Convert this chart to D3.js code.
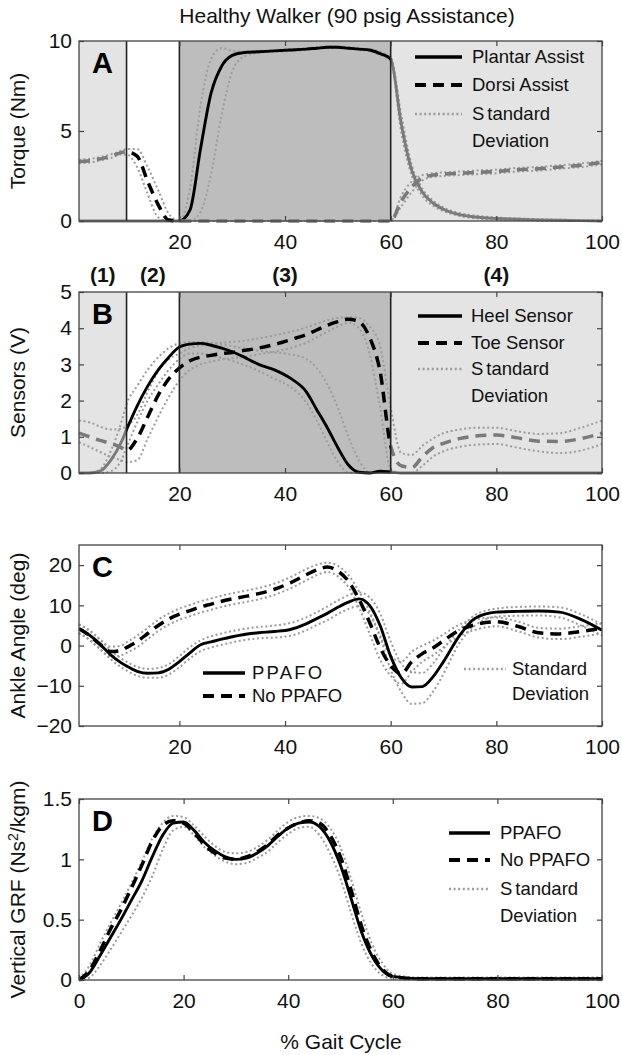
<!DOCTYPE html>
<html>
<head>
<meta charset="utf-8">
<script src="https://cdn.jsdelivr.net/npm/d3@7"></script>
<style>
  body { margin: 0; background: #fff; }
  svg { display: block; font-family: "Liberation Sans", Arial, sans-serif; }
</style>
</head>
<body>
<div id="chart"></div>
<script>

// ---- data ----
// shared % gait cycle grid for panels A, B, C
const gaitX = [1,3,5,7,9,10,12,14,16,18,20,22,24,26,28,30,32,35,38,41,44,46,48,50,52,54,56,58,60,62,64,66,68,70,73,76,80,84,88,92,96,100];

// phases of the gait cycle (panels A and B)
const phaseEdges = [1, 10, 20, 60, 100];
const phaseLabels = ["(1)", "(2)", "(3)", "(4)"];

// A: torque (Nm)
const plantarAssist   = [0,0,0,0,0, 0,0,0,0,0, 0,0.6,4.0,7.1,8.6, 9.2,9.35,9.4,9.45,9.5, 9.55,9.6,9.65,9.65,9.6, 9.55,9.5,9.3,9.0,5.4, 2.8,1.6,1.0,0.65,0.35, 0.22,0.14,0.1,0.06,0.04, 0.02,0];
const plantarAssistHi = [0,0,0,0,0, 0,0,0,0,0, 0,1.8,6.4,9.0,9.6, 9.45,9.4,9.45,9.5,9.55, 9.6,9.65,9.7,9.7,9.65, 9.6,9.55,9.4,9.1,5.9, 3.1,1.8,1.15,0.75,0.45, 0.3,0.2,0.14,0.1,0.07, 0.05,0.03];
const plantarAssistLo = [0,0,0,0,0, 0,0,0,0,0, 0,0,0.5,2.6,5.9, 8.3,9.1,9.35,9.4,9.45, 9.5,9.55,9.6,9.6,9.55, 9.5,9.45,9.2,8.9,4.9, 2.5,1.4,0.85,0.55,0.28, 0.15,0.08,0.05,0.02,0.01, 0,0];
const dorsiAssist     = [3.3,3.35,3.45,3.6,3.8, 3.85,3.6,2.2,0.9,0.05, 0,0,0,0,0, 0,0,0,0,0, 0,0,0,0,0, 0,0,0,0,1.1, 1.9,2.4,2.55,2.6,2.65, 2.7,2.75,2.85,2.9,3.0, 3.1,3.25];
const dorsiAssistHi   = [3.4,3.45,3.55,3.7,3.9, 4.0,4.0,3.0,1.7,0.4, 0,0,0,0,0, 0,0,0,0,0, 0,0,0,0,0, 0,0,0,0,1.4, 2.2,2.55,2.65,2.7,2.75, 2.8,2.85,2.95,3.0,3.1, 3.2,3.35];
const dorsiAssistLo   = [3.2,3.25,3.35,3.5,3.7, 3.7,3.0,1.5,0.2,0, 0,0,0,0,0, 0,0,0,0,0, 0,0,0,0,0, 0,0,0,0,0.8, 1.6,2.25,2.45,2.5,2.55, 2.6,2.65,2.75,2.8,2.9, 3.0,3.15];

// B: sensors (V)
const heelSensor   = [0,0,0.05,0.35,0.85, 1.2,1.85,2.4,2.85,3.2, 3.48,3.56,3.58,3.53,3.45, 3.35,3.22,3.0,2.85,2.62, 2.25,1.75,1.25,0.7,0.22, 0.02,0,0.05,0.03,0, 0,0,0,0,0, 0,0,0,0,0, 0,0];
const heelSensorHi = [0,0,0.1,0.6,1.4, 1.9,2.4,2.85,3.2,3.45, 3.58,3.62,3.62,3.6,3.55, 3.5,3.45,3.38,3.33,3.28, 3.15,2.9,2.45,1.8,1.0, 0.35,0.02,0,0,0, 0,0,0,0,0, 0,0,0,0,0, 0,0];
const heelSensorLo = [0,0,0,0.05,0.35, 0.7,1.4,2.0,2.45,2.85, 3.15,3.3,3.3,3.25,3.18, 3.1,3.0,2.82,2.6,2.38, 1.95,1.45,0.85,0.3,0.02, 0,0,0,0,0, 0,0,0,0,0, 0,0,0,0,0, 0,0];
const toeSensor    = [1.1,1.0,0.9,0.82,0.7, 0.62,0.95,1.55,2.15,2.6, 2.9,3.1,3.2,3.25,3.3, 3.33,3.38,3.45,3.55,3.68, 3.82,3.95,4.08,4.18,4.25, 4.18,3.75,2.8,0.75,0.2, 0.15,0.45,0.7,0.82,0.95, 1.02,1.05,0.97,0.88,0.87, 0.95,1.1];
const toeSensorHi  = [1.45,1.4,1.28,1.2,1.22, 1.3,1.6,2.25,2.8,3.15, 3.3,3.45,3.52,3.56,3.6, 3.62,3.65,3.72,3.8,3.9, 4.02,4.12,4.22,4.28,4.3, 4.28,4.05,3.5,1.8,0.55, 0.5,0.75,0.95,1.1,1.2, 1.25,1.25,1.15,1.08,1.1, 1.25,1.45];
const toeSensorLo  = [0.85,0.72,0.58,0.45,0.35, 0.3,0.35,0.95,1.55,2.1, 2.55,2.85,3.0,3.08,3.13, 3.17,3.2,3.28,3.35,3.45, 3.6,3.75,3.9,4.05,4.15, 4.0,3.3,1.8,0.1,0, 0,0.2,0.45,0.6,0.72, 0.78,0.8,0.7,0.6,0.55, 0.62,0.8];

// C: ankle angle (deg)
const anklePPAFO     = [4.2,2.6,0.3,-2.3,-4.3, -5.1,-6.4,-6.9,-6.8,-5.9, -4.0,-1.8,0.2,0.9,1.6, 2.2,2.7,3.2,3.5,4.0, 5.4,6.7,8.0,9.5,10.8, 11.6,10.0,5.0,-2.7,-8.0, -10.3,-10.2,-7.8,-4.0,2.4, 6.8,8.3,8.5,8.6,8.3, 6.5,3.8];
const anklePPAFOHi   = [5.3,3.8,1.5,-1.2,-3.2, -4.0,-5.3,-5.8,-5.6,-4.6, -2.6,-0.4,1.3,2.3,3.0, 3.6,4.1,4.6,5.0,5.6, 7.0,8.3,9.7,11.2,12.5, 13.2,12.0,8.0,1.0,-4.5, -6.5,-6.8,-4.5,-0.8,4.0, 7.6,9.2,9.6,9.7,9.5, 7.8,5.2];
const anklePPAFOLo   = [3.1,1.4,-0.9,-3.4,-5.4, -6.2,-7.5,-8.0,-8.0,-7.2, -5.4,-3.2,-1.4,-0.5,0.2, 0.8,1.3,1.8,2.0,2.4, 3.8,5.1,6.3,7.8,9.1, 9.8,7.8,2.0,-6.0,-11.5, -14.5,-14.3,-11.5,-7.0,0.6, 5.0,7.2,7.4,7.5,7.0, 5.0,2.5];
const ankleNoPPAFO   = [4.2,2.5,0.3,-1.5,-1.2, -0.5,1.0,3.0,5.0,6.6, 7.8,8.7,9.6,10.3,11.0, 11.6,12.1,12.9,14.0,15.6, 17.6,18.8,19.5,18.5,16.0, 11.5,5.8,-0.5,-5.0,-7.0, -4.0,-2.0,-0.6,1.2,3.8, 5.2,5.9,4.8,3.2,2.9, 3.5,4.3];
const ankleNoPPAFOHi = [5.3,3.6,1.5,-0.3,0.0, 0.8,2.4,4.4,6.4,8.0, 9.2,10.1,11.0,11.7,12.4, 13.0,13.5,14.3,15.4,17.0, 19.0,20.1,20.6,19.8,17.5, 13.5,8.5,2.5,-2.5,-4.0, -1.5,0.0,1.2,2.8,5.2, 6.5,7.0,6.0,4.4,4.2, 4.8,5.6];
const ankleNoPPAFOLo = [3.1,1.4,-0.9,-2.7,-2.4, -1.8,-0.4,1.6,3.6,5.2, 6.4,7.3,8.2,8.9,9.6, 10.2,10.7,11.5,12.6,14.2, 16.2,17.5,18.3,17.2,14.5, 9.5,3.0,-3.5,-7.5,-9.5, -6.5,-4.0,-2.4,-0.4,2.4, 3.9,4.8,3.6,2.0,1.6, 2.2,3.0];

// D: vertical GRF (Ns^2/kgm)
const grfX = [0,2,4,6,8,10,12,14,16,18,20,22,24,26,28,30,32,34,36,38,40,42,44,46,48,50,52,54,56,58,60,65,70,80,90,100];
const grfPPAFO   = [0,0.06,0.2,0.35,0.5, 0.66,0.82,1.02,1.2,1.3, 1.31,1.24,1.14,1.07,1.02, 1.0,1.01,1.05,1.11,1.19, 1.26,1.3,1.31,1.27,1.15, 0.95,0.68,0.4,0.2,0.08, 0.03, 0.01,0.01,0.01,0.01,0.01];
const grfNoPPAFO = [0,0.08,0.24,0.42,0.58, 0.76,0.95,1.15,1.28,1.32, 1.3,1.22,1.12,1.05,1.01, 1.0,1.02,1.06,1.12,1.2, 1.26,1.3,1.32,1.3,1.2, 1.02,0.75,0.45,0.23,0.09, 0.03, 0.01,0.01,0.01,0.01,0.01];
const grfHi      = [0.01,0.12,0.3,0.47,0.63, 0.8,0.98,1.17,1.3,1.36, 1.35,1.28,1.19,1.11,1.06, 1.05,1.06,1.1,1.16,1.24, 1.31,1.35,1.36,1.34,1.26, 1.1,0.84,0.55,0.3,0.14, 0.05, 0.02,0.02,0.02,0.02,0.02];
const grfLo      = [0,0.02,0.12,0.25,0.39, 0.53,0.68,0.86,1.08,1.24, 1.27,1.2,1.1,1.03,0.98, 0.96,0.97,1.01,1.06,1.14, 1.21,1.26,1.27,1.2,1.05, 0.84,0.56,0.3,0.13,0.04, 0.01, 0,0,0,0,0];

// tick labels
const gaitTicks = [20, 40, 60, 80, 100];
const grfGaitTicks = [0, 20, 40, 60, 80, 100];
const torqueTicks = [0, 5, 10];
const sensorTicks = [0, 1, 2, 3, 4, 5];
const angleTicks = [-20, -10, 0, 10, 20];
const grfTicks = [0, 0.5, 1, 1.5];

// ---- drawing ----
const width = 622, height = 1055;
const plotLeft = 79, plotRight = 602;
const inactiveColor = "#7a7a7a";
const sdColor = "#9c9c9c";
const phaseFill = ["#e4e4e4", "#ffffff", "#bdbdbd", "#e4e4e4"];

const lineStyles = {
    solid: {width: 2.9, dash: null},
    dash: {width: 3.5, dash: "11,7"},
    dot: {width: 2, dash: "2,2.6"}
};

const svg = d3.select("#chart")
    .append("svg")
    .attr("width", width)
    .attr("height", height);

const defs = svg.append("defs");
let clipId = 0;

// clip made of one or more x intervals (data units)
function makeClip(x, ranges, top, bottom) {
    const id = "clip" + (clipId++);
    const cp = defs.append("clipPath").attr("id", id);
    ranges.forEach(r => {
        cp.append("rect")
            .attr("x", x(r[0]))
            .attr("y", top - 6)
            .attr("width", x(r[1]) - x(r[0]))
            .attr("height", bottom - top + 12);
    });
    return "url(#" + id + ")";
}

function drawPanel(p) {
    const x = d3.scaleLinear().domain(p.xDomain).range([plotLeft, plotRight]);
    const y = d3.scaleLinear().domain(p.yDomain).range([p.bottom, p.top]);
    const g = svg.append("g");

    // shaded gait phases
    if (p.phases) {
        for (let i = 0; i < phaseEdges.length - 1; i++) {
            g.append("rect")
                .attr("x", x(phaseEdges[i]))
                .attr("y", p.top)
                .attr("width", x(phaseEdges[i + 1]) - x(phaseEdges[i]))
                .attr("height", p.bottom - p.top)
                .attr("fill", phaseFill[i]);
        }
    }

    const line = d3.line()
        .x((d, i) => x(p.xs[i]))
        .y(d => y(d))
        .curve(d3.curveMonotoneX);

    // standard deviation bands as dotted lines
    p.sd.forEach(s => {
        g.append("path")
            .attr("d", line(s))
            .attr("fill", "none")
            .attr("stroke", sdColor)
            .attr("stroke-width", lineStyles.dot.width)
            .attr("stroke-dasharray", lineStyles.dot.dash);
    });

    // mean curves: black inside the active phase, grey outside
    p.series.forEach(s => {
        const st = lineStyles[s.style];
        const a = s.active || p.xDomain;
        if (s.active) {
            g.append("path")
                .attr("d", line(s.values))
                .attr("fill", "none")
                .attr("stroke", inactiveColor)
                .attr("stroke-width", st.width)
                .attr("stroke-dasharray", st.dash)
                .attr("clip-path", makeClip(x, [[p.xDomain[0] - 1, a[0]], [a[1], p.xDomain[1] + 1]], p.top, p.bottom));
        }
        g.append("path")
            .attr("d", line(s.values))
            .attr("fill", "none")
            .attr("stroke", "#000")
            .attr("stroke-width", st.width)
            .attr("stroke-dasharray", st.dash)
            .attr("clip-path", makeClip(x, [a], p.top, p.bottom));
    });

    // phase dividers
    if (p.phases) {
        phaseEdges.slice(1, -1).forEach(e => {
            g.append("line")
                .attr("x1", x(e)).attr("x2", x(e))
                .attr("y1", p.top).attr("y2", p.bottom)
                .attr("stroke", "#222")
                .attr("stroke-width", 1.6);
        });
    }

    // frame
    g.append("rect")
        .attr("x", plotLeft).attr("y", p.top)
        .attr("width", plotRight - plotLeft)
        .attr("height", p.bottom - p.top)
        .attr("fill", "none")
        .attr("stroke", "#444")
        .attr("stroke-width", 1.3);

    // axes with inward ticks (matlab style box)
    const fmt = d => d3.format("")(d);
    const left = g.append("g").attr("transform", `translate(${plotLeft},0)`)
        .call(d3.axisLeft(y).tickValues(p.yTicks).tickSize(-5).tickPadding(7).tickFormat(fmt));
    const bottom = g.append("g").attr("transform", `translate(0,${p.bottom})`)
        .call(d3.axisBottom(x).tickValues(p.xTicks).tickSize(-5).tickPadding(13).tickFormat(fmt));
    const rightAx = g.append("g").attr("transform", `translate(${plotRight},0)`)
        .call(d3.axisRight(y).tickValues(p.yTicks).tickSize(-5).tickFormat(""));
    const topAx = g.append("g").attr("transform", `translate(0,${p.top})`)
        .call(d3.axisTop(x).tickValues(p.xTicks).tickSize(-5).tickFormat(""));
    [left, bottom, rightAx, topAx].forEach(ax => {
        ax.select(".domain").remove();
        ax.selectAll(".tick line").attr("stroke", "#444").attr("stroke-width", 1.2);
        ax.selectAll("text")
            .attr("fill", "#111")
            .style("font-size", "21px")
            .style("font-family", "'Liberation Sans', Arial, sans-serif");
    });

    // y axis title
    const yt = g.append("text")
        .attr("transform", "rotate(-90)")
        .attr("x", -(p.top + p.bottom) / 2)
        .attr("y", 25)
        .attr("dy", "0.35em")
        .attr("text-anchor", "middle")
        .style("font-size", "21px")
        .attr("fill", "#111");
    p.yTitle.forEach(part => {
        yt.append("tspan").attr("dy", part.dy || 0).style("font-size", part.size || null).text(part.t);
    });

    // panel letter
    g.append("text")
        .attr("x", 92)
        .attr("y", p.top + 32)
        .style("font-size", "29px")
        .style("font-weight", "bold")
        .text(p.letter);

    // legend
    const lg = p.legend;
    lg.items.forEach((it, i) => {
        const yy = lg.rows[i];
        const st = lineStyles[it.style];
        g.append("line")
            .attr("x1", lg.x0).attr("x2", lg.x1)
            .attr("y1", yy).attr("y2", yy)
            .attr("stroke", it.style === "dot" ? sdColor : "#000")
            .attr("stroke-width", st.width + 0.4)
            .attr("stroke-dasharray", st.dash);
        const tx = g.append("text")
            .attr("x", lg.tx)
            .attr("y", yy)
            .attr("dy", "0.35em")
            .style("font-size", "18.5px")
            .style("letter-spacing", it.spacing || null)
            .attr("fill", "#111");
        if (it.split) {
            tx.append("tspan").text(it.label.slice(0, 1));
            tx.append("tspan").attr("dx", 3).text(it.label.slice(1));
        } else {
            tx.text(it.label);
        }
        if (it.second) {
            g.append("text")
                .attr("x", lg.tx)
                .attr("y", yy + lg.gap)
                .attr("dy", "0.35em")
                .style("font-size", "18.5px")
                .attr("fill", "#111")
                .text(it.second);
        }
    });

    return {x, y};
}

// Title
svg.append("text")
    .attr("x", 347)
    .attr("y", 23)
    .attr("text-anchor", "middle")
    .style("font-size", "21px")
    .attr("fill", "#111")
    .text("Healthy Walker (90 psig Assistance)");

// Panel A
drawPanel({
    letter: "A", top: 41, bottom: 221,
    xDomain: [1, 100], yDomain: [0, 10], xs: gaitX,
    xTicks: gaitTicks, yTicks: torqueTicks, phases: true,
    yTitle: [{t: "Torque (Nm)"}],
    sd: [plantarAssistHi, plantarAssistLo, dorsiAssistHi, dorsiAssistLo],
    series: [
        {values: plantarAssist, style: "solid", active: [20, 60]},
        {values: dorsiAssist, style: "dash", active: [10, 20]}
    ],
    legend: {x0: 415, x1: 462, tx: 472, rows: [57, 85, 114], gap: 27,
        items: [
            {label: "Plantar Assist", style: "solid"},
            {label: "Dorsi Assist", style: "dash"},
            {label: "Standard", style: "dot", split: true, second: "Deviation"}
        ]}
});

// Panel B
const panelB = drawPanel({
    letter: "B", top: 292, bottom: 473,
    xDomain: [1, 100], yDomain: [0, 5], xs: gaitX,
    xTicks: gaitTicks, yTicks: sensorTicks, phases: true,
    yTitle: [{t: "Sensors (V)"}],
    sd: [heelSensorHi, heelSensorLo, toeSensorHi, toeSensorLo],
    series: [
        {values: heelSensor, style: "solid", active: [10, 60]},
        {values: toeSensor, style: "dash", active: [10, 60]}
    ],
    legend: {x0: 418, x1: 462, tx: 471, rows: [316, 343, 369], gap: 27,
        items: [
            {label: "Heel Sensor", style: "solid"},
            {label: "Toe Sensor", style: "dash"},
            {label: "Standard", style: "dot", split: true, second: "Deviation"}
        ]}
});

// phase labels above panel B
phaseLabels.forEach((lab, i) => {
    svg.append("text")
        .attr("x", panelB.x((phaseEdges[i] + phaseEdges[i + 1]) / 2))
        .attr("y", 282)
        .attr("text-anchor", "middle")
        .style("font-size", "21px")
        .style("font-weight", "bold")
        .attr("fill", "#111")
        .text(lab);
});

// Panel C
drawPanel({
    letter: "C", top: 545, bottom: 726,
    xDomain: [1, 100], yDomain: [-20, 25], xs: gaitX,
    xTicks: gaitTicks, yTicks: angleTicks, phases: false,
    yTitle: [{t: "Ankle Angle (deg)"}],
    sd: [anklePPAFOHi, anklePPAFOLo, ankleNoPPAFOHi, ankleNoPPAFOLo],
    series: [
        {values: ankleNoPPAFO, style: "dash"},
        {values: anklePPAFO, style: "solid"}
    ],
    legend: {x0: 203, x1: 245, tx: 252, rows: [673, 696], gap: 25,
        items: [
            {label: "PPAFO", style: "solid", spacing: "2.2px"},
            {label: "No PPAFO", style: "dash"}
        ]}
});
// separate standard deviation key in panel C
svg.append("line")
    .attr("x1", 464).attr("x2", 506).attr("y1", 669).attr("y2", 669)
    .attr("stroke", sdColor).attr("stroke-width", 2.4).attr("stroke-dasharray", lineStyles.dot.dash);
svg.append("text").attr("x", 512).attr("y", 669).attr("dy", "0.35em")
    .style("font-size", "18.5px").attr("fill", "#111").text("Standard");
svg.append("text").attr("x", 512).attr("y", 694).attr("dy", "0.35em")
    .style("font-size", "18.5px").attr("fill", "#111").text("Deviation");

// Panel D
drawPanel({
    letter: "D", top: 799, bottom: 980,
    xDomain: [0, 100], yDomain: [0, 1.5], xs: grfX,
    xTicks: grfGaitTicks, yTicks: grfTicks, phases: false,
    yTitle: [{t: "Vertical GRF (Ns"}, {t: "2", dy: -7, size: "14px"}, {t: "/kgm)", dy: 7}],
    sd: [grfHi, grfLo],
    series: [
        {values: grfNoPPAFO, style: "dash"},
        {values: grfPPAFO, style: "solid"}
    ],
    legend: {x0: 449, x1: 490, tx: 500, rows: [833, 860, 889], gap: 27,
        items: [
            {label: "PPAFO", style: "solid"},
            {label: "No PPAFO", style: "dash"},
            {label: "Standard", style: "dot", split: true, second: "Deviation"}
        ]}
});

// x axis title
svg.append("text")
    .attr("x", 341)
    .attr("y", 1049)
    .attr("text-anchor", "middle")
    .style("font-size", "21px")
    .attr("fill", "#111")
    .text("% Gait Cycle");

</script>
</body>
</html>
